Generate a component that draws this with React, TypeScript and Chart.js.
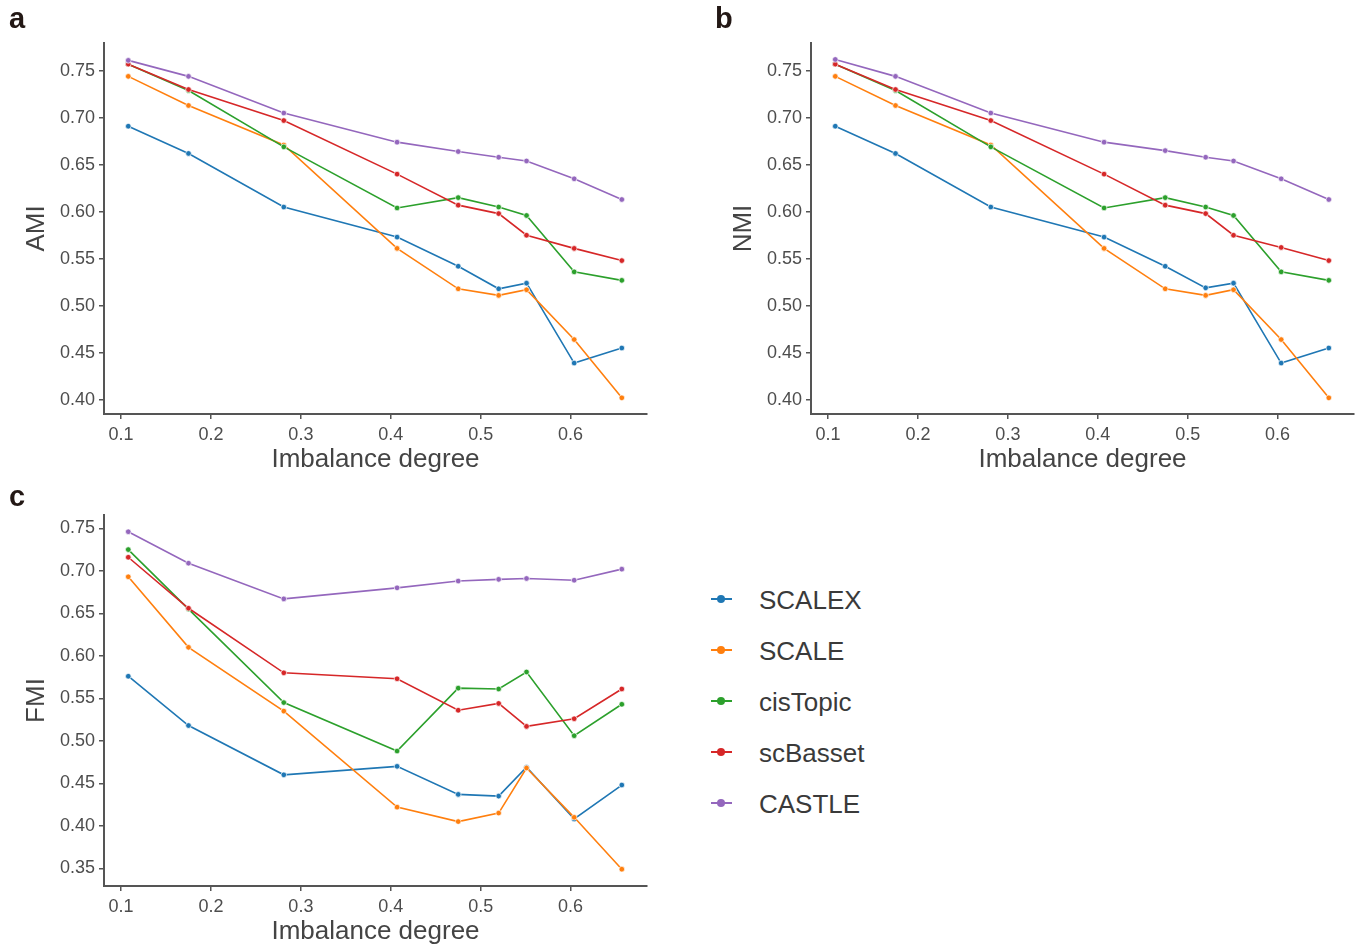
import { useEffect, useRef } from "react";
import { Chart, registerables } from "chart.js";

Chart.register(...registerables);

const FONT = "'Liberation Sans', Arial, sans-serif";

// shared x values (imbalance degree)
const imbalance = [0.108, 0.175, 0.281, 0.407, 0.475, 0.52, 0.551, 0.604, 0.657];
const methods = ["SCALEX", "SCALE", "cisTopic", "scBasset", "CASTLE"];
const colors = ["#1f77b4", "#ff7f0e", "#2ca02c", "#d62728", "#9467bd"];
const xTicks = [0.1, 0.2, 0.3, 0.4, 0.5, 0.6];
const yTicksAB = [0.4, 0.45, 0.5, 0.55, 0.6, 0.65, 0.7, 0.75];
const yTicksC = [0.35, 0.4, 0.45, 0.5, 0.55, 0.6, 0.65, 0.7, 0.75];

// panel a: AMI
const amiSCALEX = [0.691, 0.662, 0.605, 0.573, 0.542, 0.518, 0.524, 0.439, 0.455];
const amiSCALE = [0.744, 0.713, 0.671, 0.561, 0.518, 0.511, 0.517, 0.464, 0.402];
const amiCisTopic = [0.757, 0.729, 0.669, 0.604, 0.615, 0.605, 0.596, 0.536, 0.527];
const amiScBasset = [0.757, 0.73, 0.697, 0.64, 0.607, 0.598, 0.575, 0.561, 0.548];
const amiCASTLE = [0.761, 0.744, 0.705, 0.674, 0.664, 0.658, 0.654, 0.635, 0.613];

// panel b: NMI
const nmiSCALEX = [0.691, 0.662, 0.605, 0.573, 0.542, 0.519, 0.524, 0.439, 0.455];
const nmiSCALE = [0.744, 0.713, 0.671, 0.561, 0.518, 0.511, 0.517, 0.464, 0.402];
const nmiCisTopic = [0.757, 0.729, 0.669, 0.604, 0.615, 0.605, 0.596, 0.536, 0.527];
const nmiScBasset = [0.757, 0.73, 0.697, 0.64, 0.607, 0.598, 0.575, 0.562, 0.548];
const nmiCASTLE = [0.762, 0.744, 0.705, 0.674, 0.665, 0.658, 0.654, 0.635, 0.613];

// panel c: FMI
const fmiSCALEX = [0.576, 0.518, 0.46, 0.47, 0.437, 0.435, 0.469, 0.408, 0.448];
const fmiSCALE = [0.693, 0.61, 0.535, 0.422, 0.405, 0.415, 0.468, 0.41, 0.349];
const fmiCisTopic = [0.725, 0.655, 0.545, 0.488, 0.562, 0.561, 0.581, 0.506, 0.543];
const fmiScBasset = [0.716, 0.656, 0.58, 0.573, 0.536, 0.544, 0.517, 0.526, 0.561];
const fmiCASTLE = [0.746, 0.709, 0.667, 0.68, 0.688, 0.69, 0.691, 0.689, 0.702];

type PanelProps = {
  left: number;
  top: number;
  padTop: number;
  yLabel: string;
  series: number[][];
  yMin: number;
  yMax: number;
  yTicks: number[];
};

const CW = 660;
const CH = 480;

function Panel({ left, top, padTop, yLabel, series, yMin, yMax, yTicks }: PanelProps) {
  const ref = useRef<HTMLCanvasElement | null>(null);
  useEffect(() => {
    if (!ref.current) return;
    const tickFont = { family: FONT, size: 18 };
    const titleFont = { family: FONT, size: 26 };
    const chart = new Chart(ref.current, {
      type: "line",
      data: {
        datasets: methods.map((m, i) => ({
          label: m,
          data: imbalance.map((x, j) => ({ x, y: series[i][j] })),
          borderColor: colors[i],
          backgroundColor: colors[i],
          pointBackgroundColor: colors[i],
          pointBorderColor: "rgba(255,255,255,0.85)",
          pointBorderWidth: 0.8,
          pointRadius: 2.8,
          borderWidth: 1.6,
          tension: 0,
          order: 4 - i,
        })),
      },
      options: {
        animation: false,
        responsive: false,
        maintainAspectRatio: false,
        layout: { padding: { top: padTop, right: 13, left: 0, bottom: 0 } },
        plugins: { legend: { display: false }, tooltip: { enabled: false } },
        scales: {
          x: {
            type: "linear",
            min: 0.081,
            max: 0.685,
            afterBuildTicks: (s: any) => {
              s.ticks = xTicks.map((v) => ({ value: v }));
            },
            afterFit: (s: any) => {
              s.height = 66;
            },
            ticks: {
              callback: (v: any) => Number(v).toFixed(1),
              font: tickFont,
              color: "#4d4d4d",
              padding: 5,
              maxRotation: 0,
              autoSkip: false,
            },
            grid: {
              display: true,
              drawOnChartArea: false,
              drawTicks: true,
              tickLength: 5,
              color: "#555",
              lineWidth: 1.5,
            },
            border: { display: true, color: "#555", width: 2 },
            title: {
              display: true,
              text: "Imbalance degree",
              font: titleFont,
              color: "#444",
              padding: { top: 0, bottom: 5 },
            },
          },
          y: {
            type: "linear",
            min: yMin,
            max: yMax,
            afterBuildTicks: (s: any) => {
              s.ticks = yTicks.map((v) => ({ value: v }));
            },
            afterFit: (s: any) => {
              s.width = 104;
            },
            ticks: {
              callback: (v: any) => Number(v).toFixed(2),
              font: tickFont,
              color: "#4d4d4d",
              padding: 4,
              autoSkip: false,
            },
            grid: {
              display: true,
              drawOnChartArea: false,
              drawTicks: true,
              tickLength: 5,
              color: "#555",
              lineWidth: 1.5,
            },
            border: { display: true, color: "#555", width: 2 },
            title: {
              display: true,
              text: yLabel,
              font: titleFont,
              color: "#444",
              padding: { top: 21, bottom: 0 },
            },
          },
        },
      },
    } as any);
    return () => chart.destroy();
  }, []);
  return (
    <canvas
      ref={ref}
      width={CW}
      height={CH}
      style={{ position: "absolute", left, top, width: CW, height: CH }}
    />
  );
}

function PanelLabel({ text, left, top }: { text: string; left: number; top: number }) {
  return (
    <div
      style={{
        position: "absolute",
        left,
        top,
        fontFamily: FONT,
        fontWeight: "bold",
        fontSize: 29,
        lineHeight: 1,
        color: "#231815",
      }}
    >
      {text}
    </div>
  );
}

function Legend() {
  const rows = [599, 650, 701, 752, 803];
  return (
    <>
      {methods.map((m, i) => (
        <div key={m}>
          <div
            style={{
              position: "absolute",
              left: 711,
              top: rows[i] - 1,
              width: 21,
              height: 2,
              background: colors[i],
            }}
          />
          <div
            style={{
              position: "absolute",
              left: 721 - 4,
              top: rows[i] - 4,
              width: 8,
              height: 8,
              borderRadius: "50%",
              background: colors[i],
            }}
          />
          <div
            style={{
              position: "absolute",
              left: 759,
              top: rows[i] - 12,
              fontFamily: FONT,
              fontSize: 26,
              lineHeight: 1,
              color: "#3a3a3a",
              whiteSpace: "nowrap",
            }}
          >
            {m}
          </div>
        </div>
      ))}
    </>
  );
}

export default function App() {
  return (
    <div
      style={{
        position: "absolute",
        left: 0,
        top: 0,
        width: 1365,
        height: 949,
        overflow: "hidden",
        background: "#ffffff",
      }}
    >
      <Panel
        left={0}
        top={0}
        padTop={43}
        yLabel="AMI"
        series={[amiSCALEX, amiSCALE, amiCisTopic, amiScBasset, amiCASTLE]}
        yMin={0.3848}
        yMax={0.7795}
        yTicks={yTicksAB}
      />
      <Panel
        left={707}
        top={0}
        padTop={43}
        yLabel="NMI"
        series={[nmiSCALEX, nmiSCALE, nmiCisTopic, nmiScBasset, nmiCASTLE]}
        yMin={0.3848}
        yMax={0.7795}
        yTicks={yTicksAB}
      />
      <Panel
        left={0}
        top={472}
        padTop={43}
        yLabel="FMI"
        series={[fmiSCALEX, fmiSCALE, fmiCisTopic, fmiScBasset, fmiCASTLE]}
        yMin={0.3292}
        yMax={0.7657}
        yTicks={yTicksC}
      />
      <PanelLabel text="a" left={9} top={4} />
      <PanelLabel text="b" left={715} top={4} />
      <PanelLabel text="c" left={9} top={482} />
      <Legend />
    </div>
  );
}
